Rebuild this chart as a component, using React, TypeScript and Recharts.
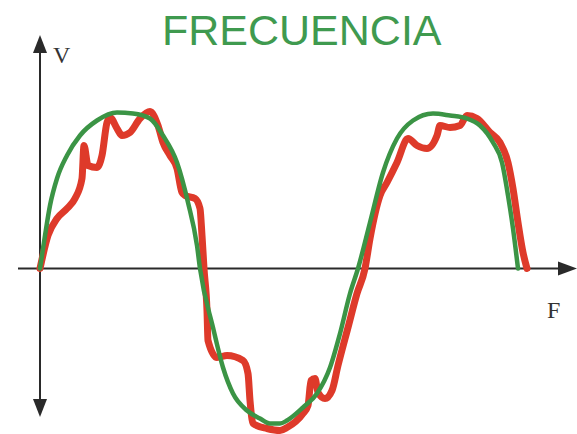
import React from 'react';
import { LineChart, Line, XAxis, YAxis, ReferenceLine, ReferenceDot } from 'recharts';

// frequency positions and voltage values
const idealF = [0, 5, 10, 17, 27, 40, 57, 77, 93, 110, 123, 137, 148, 157, 160, 173, 183, 193, 207, 220, 230, 240, 247, 263, 277, 290, 300, 310, 318, 330, 343, 357, 373, 393, 410, 427, 440, 453, 462, 468, 473, 478];
const idealV = [0, 33, 63, 90, 113, 133, 148, 156, 155, 150, 133, 106, 66, 23, 0, -59, -99, -125, -142, -150, -155, -155, -152, -139, -125, -99, -65, -25, 0, 46, 96, 130, 148, 155, 153, 150, 143, 126, 106, 73, 40, 0];

const noisyF = [0, 8, 17, 27, 35, 42, 44, 48, 57, 62, 67, 70, 77, 82, 90, 100, 110, 118, 123, 130, 137, 142, 145, 155, 160, 162, 164, 167, 168, 177, 187, 203, 208, 210, 213, 227, 240, 247, 263, 268, 271, 275, 278, 285, 292, 298, 308, 317, 325, 330, 340, 347, 357, 368, 377, 387, 397, 400, 410, 420, 427, 437, 450, 460, 468, 473, 478, 483, 487];
const noisyV = [0, 33, 50, 60, 70, 90, 123, 103, 101, 113, 146, 151, 140, 133, 136, 150, 157, 143, 126, 113, 100, 76, 73, 70, 60, 33, 0, -42, -72, -89, -87, -92, -105, -132, -155, -160, -162, -159, -145, -137, -112, -110, -124, -130, -122, -97, -59, -25, 0, 30, 73, 86, 106, 130, 123, 120, 133, 143, 141, 143, 153, 150, 136, 126, 106, 80, 46, 16, 0];

const idealData = idealF.map((f, i) => ({ f, v: idealV[i] }));
const noisyData = noisyF.map((f, i) => ({ f, v: noisyV[i] }));

const AXIS = '#2a2a2a';

const Arrow = ({ cx, cy, dir }: { cx?: number; cy?: number; dir: 'up' | 'down' | 'right' }) => {
  if (cx == null || cy == null) return <g />;
  let pts = '';
  if (dir === 'up') pts = `${cx},${cy} ${cx - 7},${cy + 18} ${cx + 7},${cy + 18}`;
  if (dir === 'down') pts = `${cx},${cy} ${cx - 7},${cy - 18} ${cx + 7},${cy - 18}`;
  if (dir === 'right') pts = `${cx},${cy} ${cx - 19},${cy - 7} ${cx - 19},${cy + 7}`;
  return <polygon points={pts} fill={AXIS} />;
};

export default function App() {
  return (
    <div style={{ position: 'absolute', left: 0, top: 0, width: 577, height: 434, background: '#fff' }}>
      <LineChart width={577} height={434} margin={{ top: 0, right: 0, bottom: 0, left: 0 }}>
        <XAxis type="number" dataKey="f" domain={[-40, 537]} hide allowDataOverflow />
        <YAxis type="number" dataKey="v" domain={[-165.5, 268.5]} hide allowDataOverflow />

        <ReferenceLine segment={[{ x: -22, y: 0 }, { x: 520, y: 0 }]} stroke={AXIS} strokeWidth={2} />
        <ReferenceLine segment={[{ x: 0, y: 216 }, { x: 0, y: -132 }]} stroke={AXIS} strokeWidth={2} />
        <ReferenceDot x={537} y={0} r={0} shape={(p: any) => <Arrow cx={p.cx} cy={p.cy} dir="right" />} />
        <ReferenceDot x={0} y={233.5} r={0} shape={(p: any) => <Arrow cx={p.cx} cy={p.cy} dir="up" />} />
        <ReferenceDot x={0} y={-148.5} r={0} shape={(p: any) => <Arrow cx={p.cx} cy={p.cy} dir="down" />} />

        <Line
          data={noisyData}
          dataKey="v"
          type="monotone"
          stroke="#de3a2a"
          strokeWidth={7}
          strokeLinecap="round"
          strokeLinejoin="round"
          dot={false}
          activeDot={false}
          isAnimationActive={false}
        />
        <Line
          data={idealData}
          dataKey="v"
          type="monotone"
          stroke="#3b9445"
          strokeWidth={4.5}
          strokeLinecap="round"
          strokeLinejoin="round"
          dot={false}
          activeDot={false}
          isAnimationActive={false}
        />
      </LineChart>

      <div style={{ position: 'absolute', left: 162, top: 9, fontFamily: '"Liberation Sans", Arial, sans-serif', fontSize: 43, lineHeight: 1, color: '#3f9a4f', whiteSpace: 'nowrap' }}>
        FRECUENCIA
      </div>
      <div style={{ position: 'absolute', left: 53, top: 43, fontFamily: '"Liberation Serif", "Times New Roman", serif', fontSize: 24, lineHeight: 1, color: '#333' }}>
        V
      </div>
      <div style={{ position: 'absolute', left: 547, top: 298, fontFamily: '"Liberation Serif", "Times New Roman", serif', fontSize: 24, lineHeight: 1, color: '#333' }}>
        F
      </div>
    </div>
  );
}
